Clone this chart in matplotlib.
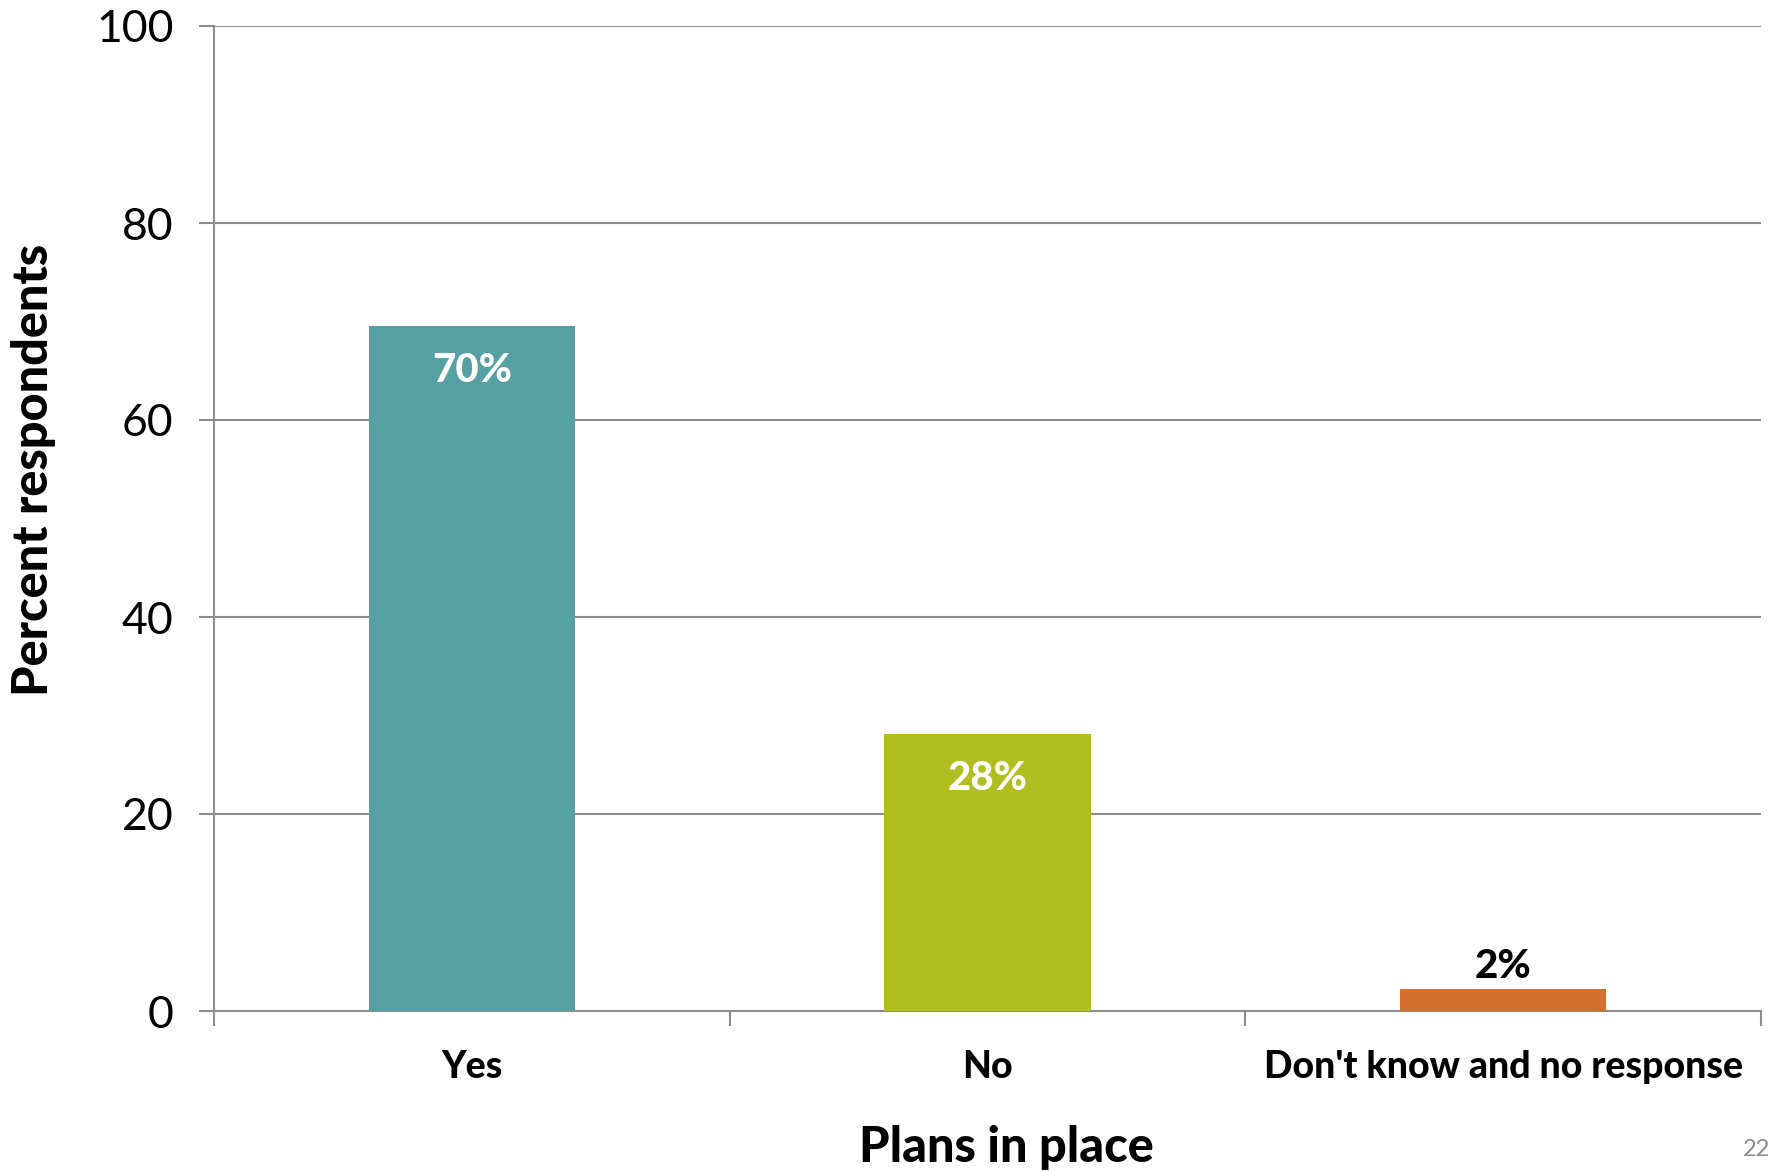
import matplotlib
matplotlib.use('Agg')
import matplotlib.pyplot as plt

categories = ['Yes', 'No', "Don't know and no response"]
values = [69.5, 28.1, 2.2]
labels = ['70%', '28%', '2%']
colors = ['#56A0A2', '#B1BE22', '#D4702B']
yticks = [0, 20, 40, 60, 80, 100]

plt.rcParams['font.family'] = ['Lato', 'DejaVu Sans']
grey = '#8c8c8c'

fig = plt.figure(figsize=(17.72, 11.71), dpi=100)
W, H = 1772, 1171
ax = fig.add_axes([214 / W, 1 - 1011 / H, (1761 - 214) / W, (1011 - 26) / H])

x = list(range(len(categories)))
bars = ax.bar(x, values, width=0.40, color=colors, zorder=3)

ax.set_xlim(-0.5, len(categories) - 0.5)
ax.set_ylim(0, 100)
ax.set_yticks(yticks)
ax.set_yticklabels([str(t) for t in yticks], fontsize=32)
ax.yaxis.grid(True, color=grey, linewidth=1.5, zorder=0)
ax.tick_params(axis='y', length=11, width=1.5, color=grey, pad=18)

# boundary ticks on x, labels in the middle of each slot
ax.set_xticks([i - 0.5 for i in range(len(categories) + 1)])
ax.set_xticklabels([])
ax.set_xticks(x, minor=True)
ax.set_xticklabels(categories, minor=True, fontsize=27, fontweight='black')
ax.tick_params(axis='x', which='major', length=11, width=1.5, color=grey)
ax.tick_params(axis='x', which='minor', length=0, pad=28)

for s in ['top', 'right']:
    ax.spines[s].set_visible(False)
for s in ['left', 'bottom']:
    ax.spines[s].set_color(grey)
    ax.spines[s].set_linewidth(1.5)

for i, (v, lab) in enumerate(zip(values, labels)):
    if v > 10:
        ax.text(i, v - 4.5, lab, ha='center', va='center', color='white',
                fontsize=29, fontweight='black', zorder=4)
    else:
        ax.text(i, v + 0.4, lab, ha='center', va='bottom', color='black',
                fontsize=29, fontweight='black', zorder=4)

fig.text(34 / W, 1 - 470 / H, 'Percent respondents', rotation=90,
         ha='center', va='center', fontsize=35, fontweight='black')
fig.text(1006 / W, 1 - 1147 / H, 'Plans in place', ha='center', va='center',
         fontsize=35, fontweight='black')
fig.text(1770 / W, 1 - 1150 / H, '22', ha='right', va='center',
         fontsize=17, color='#8c8c8c')

fig.savefig('out.png', dpi=100)
